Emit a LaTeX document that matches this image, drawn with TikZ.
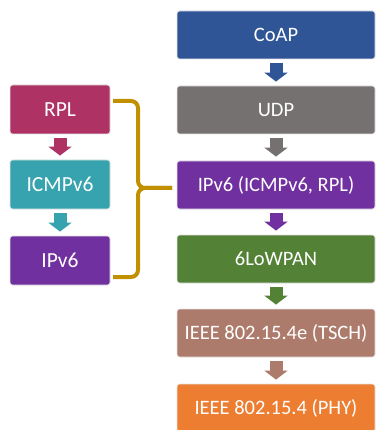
\documentclass[tikz,border=0pt]{standalone}
\usepackage{fontspec}
\setmainfont{Carlito}
\usetikzlibrary{arrows.meta}

\definecolor{coapblue}{HTML}{2F5597}
\definecolor{udpgray}{HTML}{767171}
\definecolor{ippurple}{HTML}{7030A0}
\definecolor{lowgreen}{HTML}{538135}
\definecolor{tschbrown}{HTML}{AD7B6B}
\definecolor{phyorange}{HTML}{ED7D31}
\definecolor{rplred}{HTML}{AE3263}
\definecolor{icmpteal}{HTML}{36A3AE}
\definecolor{bracegold}{HTML}{C09000}

\tikzset{
  layer/.style={rounded corners=2.5pt, draw=gray!20, line width=0.8pt, text=white,
    minimum width=198pt, minimum height=48pt, inner sep=0pt, font=\fontsize{20.5}{24}\selectfont},
  sublayer/.style={layer, minimum width=100pt, minimum height=49pt, font=\fontsize{21.5}{25}\selectfont},
  down/.style={line width=13pt, -{Triangle[width=23pt,length=9pt]}, shorten <=4pt, shorten >=4pt}
}

\begin{document}
\begin{tikzpicture}[x=1pt,y=-1pt]
  \useasboundingbox (0,0) rectangle (376,430);

  %% stack
  \node[layer, fill=coapblue]  (coap)   at (276,35)  {CoAP};
  \node[layer, fill=udpgray]   (udp)    at (276,110) {UDP};
  \node[layer, fill=ippurple]  (ipr)    at (276,185) {IPv6 (ICMPv6, RPL)};
  \node[layer, fill=lowgreen]  (lowpan) at (276,259) {6LoWPAN};
  \node[layer, fill=tschbrown] (tsch)   at (276,333) {IEEE 802.15.4e (TSCH)};
  \node[layer, fill=phyorange] (phy)    at (276,408) {IEEE 802.15.4 (PHY)};

  \draw[down, coapblue]  (coap)   -- (udp);
  \draw[down, udpgray]   (udp)    -- (ipr);
  \draw[down, ippurple]  (ipr)    -- (lowpan);
  \draw[down, lowgreen]  (lowpan) -- (tsch);
  \draw[down, tschbrown] (tsch)   -- (phy);

  %% IPv6 detail
  \node[sublayer, fill=rplred]   (rpl)  at (60,109.5) {RPL};
  \node[sublayer, fill=icmpteal] (icmp) at (60,184.5) {ICMPv6};
  \node[sublayer, fill=ippurple] (ipl)  at (60,260.5) {IPv6};

  \draw[down, rplred]   (rpl)  -- (icmp);
  \draw[down, icmpteal] (icmp) -- (ipl);

  %% brace
  \coordinate (btop) at (113,101);
  \coordinate (bbot) at (113,277);
  \coordinate (bmid) at (138,188);
  \coordinate (btip) at (172,188);
  \draw[bracegold, line width=4pt, rounded corners=7pt]
    (btop) -- (138,101) -- (bmid) -- (btip);
  \draw[bracegold, line width=4pt, rounded corners=7pt]
    (bbot) -- (138,277) -- (bmid) -- (btip);
\end{tikzpicture}
\end{document}
